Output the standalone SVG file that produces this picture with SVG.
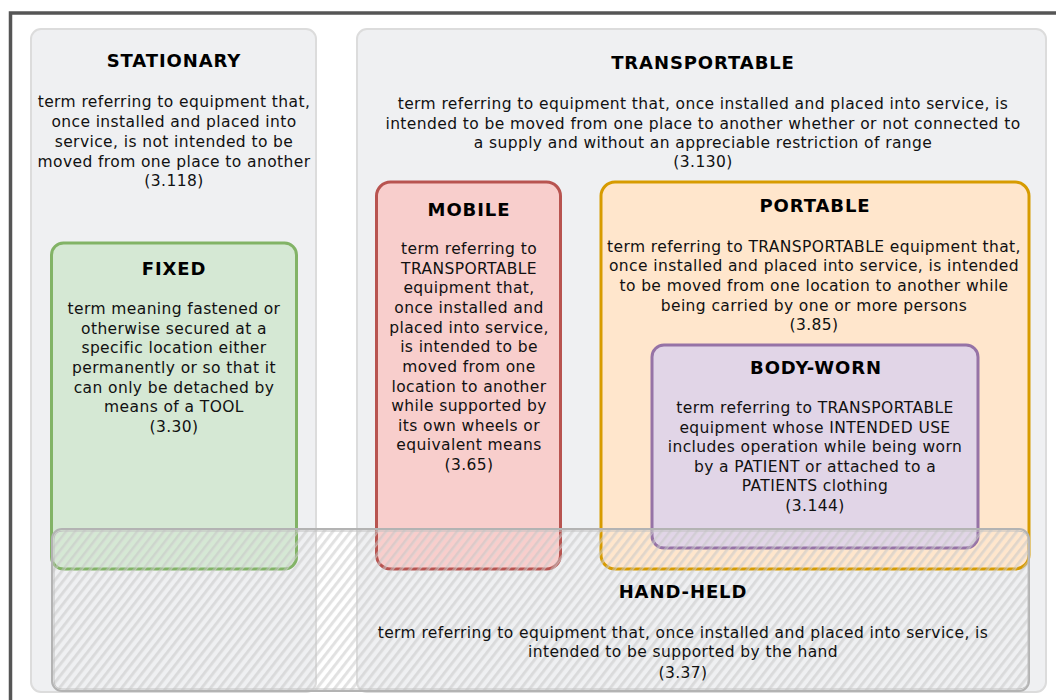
<svg xmlns="http://www.w3.org/2000/svg" width="1056" height="700" viewBox="0 0 1056 700">
<defs>
<style>
.t{font-family:"DejaVu Sans",Verdana,sans-serif;font-size:15.5px;letter-spacing:0.4px;fill:#111;text-anchor:middle}
.h{font-family:"DejaVu Sans",Verdana,sans-serif;font-size:18px;letter-spacing:0.9px;font-weight:bold;fill:#000;text-anchor:middle}
.grp{fill:#eff0f2;stroke:#dcdcdc;stroke-width:2}
</style>
<pattern id="hatch" patternUnits="userSpaceOnUse" width="7" height="12" patternTransform="rotate(38)">
<line x1="1" y1="0" x2="1" y2="12" stroke="#c4c4c4" stroke-width="1"/>
<line x1="2.6" y1="0" x2="2.6" y2="12" stroke="#d4d4d4" stroke-width="0.7"/>
</pattern>
<clipPath id="hhclip"><rect x="52" y="529" width="977" height="162" rx="10"/></clipPath>
</defs>
<rect width="1056" height="700" fill="#fff"/>
<path d="M10.5,700 V13 H1056" fill="none" stroke="#555" stroke-width="3.5"/>

<g id="stationary">
<rect class="grp" x="31" y="29" width="285" height="663" rx="10"/>
<text class="h" x="174" y="67">STATIONARY</text>
<text class="t" x="174" y="107">term referring to equipment that,</text>
<text class="t" x="174" y="127">once installed and placed into</text>
<text class="t" x="174" y="147">service, is not intended to be</text>
<text class="t" x="174" y="167">moved from one place to another</text>
<text class="t" x="174" y="186">(3.118)</text>
</g>

<g id="transportable">
<rect class="grp" x="357" y="29" width="689" height="663" rx="10"/>
<text class="h" x="703" y="69">TRANSPORTABLE</text>
<text class="t" x="703" y="109">term referring to equipment that, once installed and placed into service, is</text>
<text class="t" x="703" y="129">intended to be moved from one place to another whether or not connected to</text>
<text class="t" x="703" y="148">a supply and without an appreciable restriction of range</text>
<text class="t" x="703" y="167">(3.130)</text>
</g>

<g id="fixed">
<rect x="51.5" y="243" width="245" height="326" rx="12" fill="#d5e8d4" stroke="#82b366" stroke-width="3"/>
<text class="h" x="174" y="275">FIXED</text>
<text class="t" x="174" y="314">term meaning fastened or</text>
<text class="t" x="174" y="334">otherwise secured at a</text>
<text class="t" x="174" y="353">specific location either</text>
<text class="t" x="174" y="373">permanently or so that it</text>
<text class="t" x="174" y="393">can only be detached by</text>
<text class="t" x="174" y="412">means of a TOOL</text>
<text class="t" x="174" y="432">(3.30)</text>
</g>

<g id="mobile">
<rect x="376.5" y="182" width="184" height="387" rx="14" fill="#f8cecc" stroke="#b85450" stroke-width="3"/>
<text class="h" x="469" y="216">MOBILE</text>
<text class="t" x="469" y="254">term referring to</text>
<text class="t" x="469" y="274">TRANSPORTABLE</text>
<text class="t" x="469" y="293">equipment that,</text>
<text class="t" x="469" y="313">once installed and</text>
<text class="t" x="469" y="333">placed into service,</text>
<text class="t" x="469" y="352">is intended to be</text>
<text class="t" x="469" y="372">moved from one</text>
<text class="t" x="469" y="392">location to another</text>
<text class="t" x="469" y="411">while supported by</text>
<text class="t" x="469" y="431">its own wheels or</text>
<text class="t" x="469" y="450">equivalent means</text>
<text class="t" x="469" y="470">(3.65)</text>
</g>

<g id="portable">
<rect x="601" y="182" width="428" height="387" rx="14" fill="#ffe6cc" stroke="#d79b00" stroke-width="3"/>
<text class="h" x="815" y="212">PORTABLE</text>
<text class="t" x="814" y="252">term referring to TRANSPORTABLE equipment that,</text>
<text class="t" x="814" y="271">once installed and placed into service, is intended</text>
<text class="t" x="814" y="291">to be moved from one location to another while</text>
<text class="t" x="814" y="311">being carried by one or more persons</text>
<text class="t" x="814" y="330">(3.85)</text>
</g>

<g id="body-worn">
<rect x="652" y="345" width="326" height="203" rx="12" fill="#e1d5e7" stroke="#9673a6" stroke-width="3"/>
<text class="h" x="816" y="374">BODY-WORN</text>
<text class="t" x="815" y="413">term referring to TRANSPORTABLE</text>
<text class="t" x="815" y="433">equipment whose INTENDED USE</text>
<text class="t" x="815" y="452">includes operation while being worn</text>
<text class="t" x="815" y="472">by a PATIENT or attached to a</text>
<text class="t" x="815" y="491">PATIENTS clothing</text>
<text class="t" x="815" y="511">(3.144)</text>
</g>

<g id="hand-held">
<rect x="48" y="526" width="985" height="168" fill="url(#hatch)" clip-path="url(#hhclip)"/>
<rect x="52" y="529" width="977" height="162" rx="10" fill="none" stroke="#b3b3b3" stroke-width="2"/>
<path d="M63,531 H1018 Q1028,531 1028,541 V680 Q1028,689 1018,689 H62 Q54,689 54,680 V540 Q54,531 63,531" fill="none" stroke="#c2c2c2" stroke-width="1"/>
<text class="h" x="683" y="598">HAND-HELD</text>
<text class="t" x="683" y="638">term referring to equipment that, once installed and placed into service, is</text>
<text class="t" x="683" y="657">intended to be supported by the hand</text>
<text class="t" x="683" y="678">(3.37)</text>
</g>
</svg>
